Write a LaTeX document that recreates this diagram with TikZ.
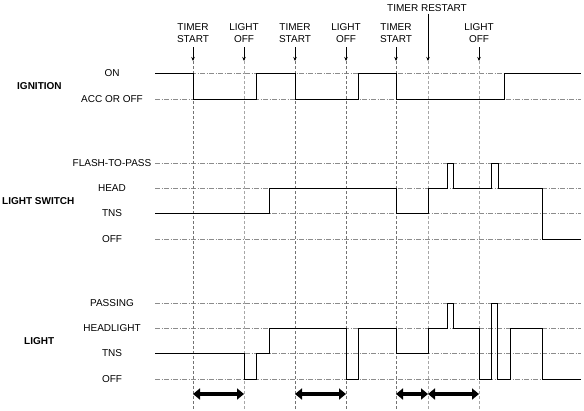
\documentclass[tikz,border=0pt]{standalone}
\usepackage{fontspec}
\setmainfont{Liberation Sans}
\usetikzlibrary{arrows.meta}
\tikzset{
  lbl/.style={font=\fontsize{10}{12}\selectfont, inner sep=0pt, align=center},
  grp/.style={font=\fontsize{10}{12}\selectfont\bfseries, inner sep=0pt, anchor=west},
  lvl/.style={draw=black!45, line width=0.6pt, dash pattern=on 5pt off 1.5pt on 1pt off 1.5pt},
  vdark/.style={draw=black!55, line width=0.6pt, dash pattern=on 3pt off 2pt},
  vlight/.style={draw=black!35, line width=0.6pt, dash pattern=on 3pt off 2pt},
  sig/.style={draw=black, line width=0.9pt, line join=miter},
  ptr/.style={draw=black, line width=0.6pt, -{Stealth[length=4pt,width=3.5pt]}},
  dur/.style={draw=black, line width=3.5pt, {Triangle[length=7pt,width=11pt]}-{Triangle[length=7pt,width=11pt]}}
}
\begin{document}
\begin{tikzpicture}[x=1pt,y=-1pt]
\useasboundingbox (0,0) rectangle (584,410);

% event labels
\node[lbl] (ts1) at (193,33) {TIMER\\START};
\node[lbl] (lo1) at (244,33) {LIGHT\\OFF};
\node[lbl] (ts2) at (295,33) {TIMER\\START};
\node[lbl] (lo2) at (346,33) {LIGHT\\OFF};
\node[lbl] (ts3) at (396,33) {TIMER\\START};
\node[lbl] (tr)  at (427,8)  {TIMER RESTART};
\node[lbl] (lo3) at (479,33) {LIGHT\\OFF};

\coordinate (e1) at (193,61);
\coordinate (e2) at (244,61);
\coordinate (e3) at (295,61);
\coordinate (e4) at (346,61);
\coordinate (e5) at (396,61);
\coordinate (e6) at (428,61);
\coordinate (e7) at (479,61);
\coordinate (b1) at (193,410);
\coordinate (b2) at (244,410);
\coordinate (b3) at (295,410);
\coordinate (b4) at (346,410);
\coordinate (b5) at (396,410);
\coordinate (b6) at (428,410);
\coordinate (b7) at (479,410);

% level reference lines
\foreach \y in {73,99,163,188,213,239,303,328,353,379}
  \draw[lvl] (155,\y) -- (581,\y);

% vertical event lines
\draw[vdark] (e1) -- (b1);
\draw[vlight] (e2) -- (b2);
\draw[vdark] (e3) -- (b3);
\draw[vdark] (e4) -- (b4);
\draw[vdark] (e5) -- (b5);
\draw[vlight] (e6) -- (b6);
\draw[vlight] (e7) -- (b7);

% pointers
\draw[ptr] (ts1.south |- 0,47) -- (e1);
\draw[ptr] (lo1.south |- 0,47) -- (e2);
\draw[ptr] (ts2.south |- 0,47) -- (e3);
\draw[ptr] (lo2.south |- 0,47) -- (e4);
\draw[ptr] (ts3.south |- 0,47) -- (e5);
\draw[ptr] (e6 |- tr.south) ++(0,2) -- (e6);
\draw[ptr] (lo3.south |- 0,47) -- (e7);

% group labels
\node[grp] (gign) at (17,86) {IGNITION};
\node[grp] (gsw)  at (2,201) {LIGHT SWITCH};
\node[grp] (glt)  at (24,341) {LIGHT};

% level labels
\node[lbl] (l1) at (112,73) {ON};
\node[lbl] (l2) at (112,99) {ACC OR OFF};
\node[lbl] (l3) at (112,163) {FLASH-TO-PASS};
\node[lbl] (l4) at (112,188) {HEAD};
\node[lbl] (l5) at (112,213) {TNS};
\node[lbl] (l6) at (112,239) {OFF};
\node[lbl] (l7) at (112,303) {PASSING};
\node[lbl] (l8) at (112,328) {HEADLIGHT};
\node[lbl] (l9) at (112,353) {TNS};
\node[lbl] (l10) at (112,379) {OFF};

% ignition signal
\draw[sig] (155,73) -- (193,73) -- (193,99) -- (256.5,99) -- (256.5,73) -- (295,73) -- (295,99)
  -- (358,99) -- (358,73) -- (396,73) -- (396,99) -- (504,99) -- (504,73) -- (581,73);

% light switch signal
\draw[sig] (155,213) -- (269,213) -- (269,188) -- (396,188) -- (396,213) -- (428,213) -- (428,188)
  -- (447,188) -- (447,163) -- (453.5,163) -- (453.5,188) -- (491.5,188) -- (491.5,163)
  -- (498,163) -- (498,188) -- (542,188) -- (542,239) -- (581,239);

% light signal
\draw[sig] (155,353) -- (244,353) -- (244,379) -- (256.5,379) -- (256.5,353) -- (269,353)
  -- (269,328) -- (346,328) -- (346,379) -- (358.5,379) -- (358.5,328) -- (396,328)
  -- (396,353) -- (428,353) -- (428,328) -- (447,328) -- (447,303) -- (453.5,303)
  -- (453.5,328) -- (479,328) -- (479,379) -- (491.5,379) -- (491.5,303) -- (497.5,303)
  -- (497.5,379) -- (510,379) -- (510,328) -- (542,328) -- (542,379) -- (581,379);

% duration arrows
\coordinate (d1) at (193,394);
\coordinate (d2) at (244,394);
\coordinate (d3) at (295,394);
\coordinate (d4) at (346,394);
\coordinate (d5) at (396,394);
\coordinate (d6) at (428,394);
\coordinate (d7) at (479,394);
\draw[dur] (d1) -- (d2);
\draw[dur] (d3) -- (d4);
\draw[dur] (d5) -- (d6);
\draw[dur] (d6) -- (d7);
\end{tikzpicture}
\end{document}
